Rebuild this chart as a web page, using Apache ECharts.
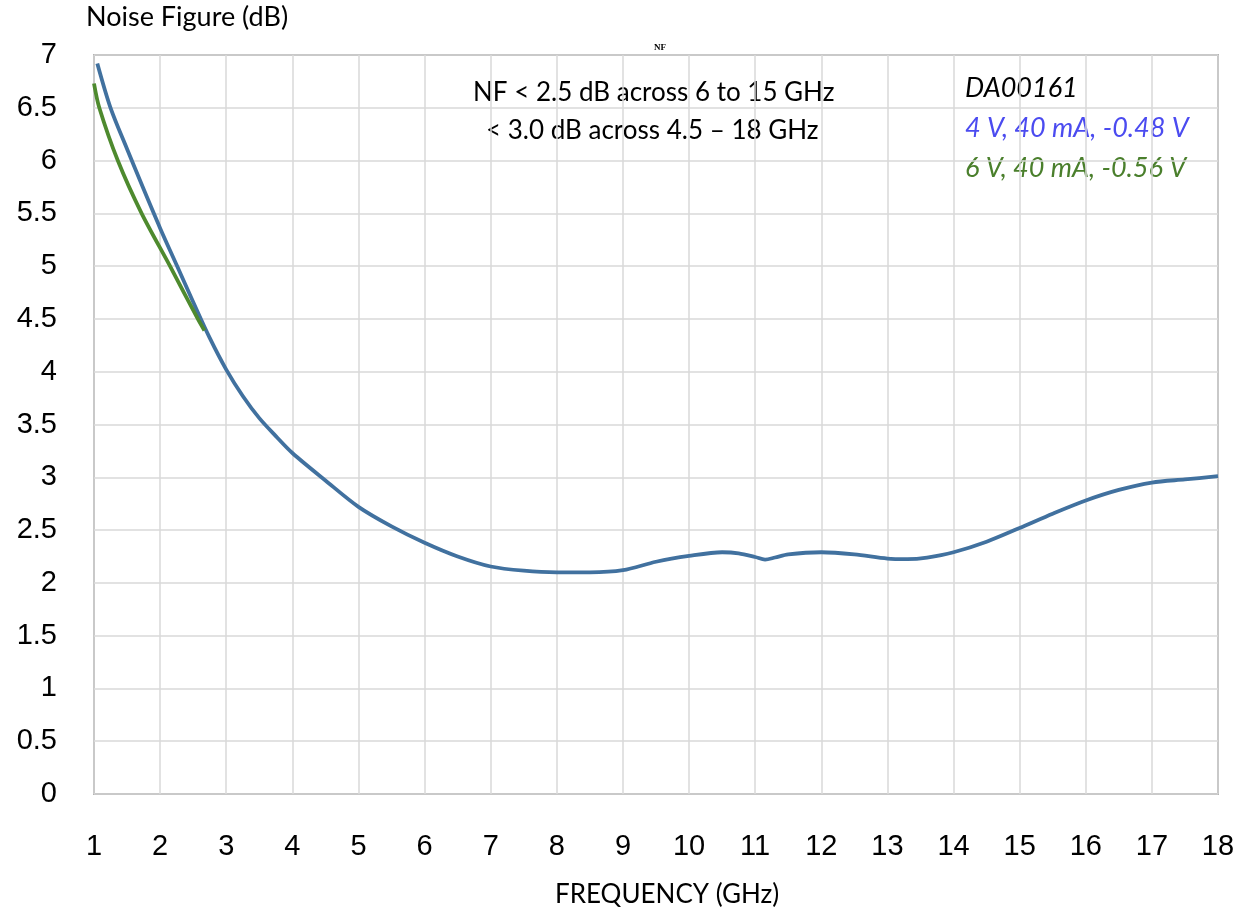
<!DOCTYPE html>
<html>
<head>
<meta charset="utf-8">
<script src="https://cdn.jsdelivr.net/npm/echarts@6/dist/echarts.min.js"></script>
<style>html,body{margin:0;padding:0;background:#fff;}#c{width:1247px;height:916px;}</style>
</head>
<body>
<div id="c"></div>
<script>
// Data
const blueFreq = [1.05, 1.25, 1.5, 1.75, 2.0, 2.25, 2.5, 2.75, 3.0, 3.25, 3.5, 3.75, 4.0, 4.5, 5.0, 5.5, 6.0, 6.5, 7.0, 7.5, 8.0, 8.5, 9.0, 9.5, 10.0, 10.5, 10.75, 11.0, 11.15, 11.3, 11.5, 12.0, 12.5, 13.0, 13.3, 13.6, 14.0, 14.5, 15.0, 15.5, 16.0, 16.5, 17.0, 17.5, 18.0];
const blueNF   = [6.92, 6.5, 6.11, 5.73, 5.36, 5.01, 4.66, 4.32, 4.02, 3.77, 3.56, 3.39, 3.23, 2.97, 2.72, 2.535, 2.38, 2.25, 2.155, 2.115, 2.10, 2.10, 2.12, 2.20, 2.255, 2.29, 2.28, 2.245, 2.22, 2.24, 2.27, 2.29, 2.27, 2.23, 2.225, 2.24, 2.29, 2.39, 2.52, 2.655, 2.78, 2.88, 2.95, 2.98, 3.01];
const greenFreq = [1.0, 1.08, 1.36, 1.72, 2.15, 2.57, 2.67];
const greenNF   = [6.73, 6.5, 6.0, 5.5, 5.0, 4.5, 4.39];
const yTicks = {min: 0, max: 7, step: 0.5};
const xTicks = {min: 1, max: 18, step: 1};
const chartTitle = 'NF';
const yAxisTitle = 'Noise Figure (dB)';
const xAxisTitle = 'FREQUENCY (GHz)';
const noteLines = ['NF < 2.5 dB across 6 to 15 GHz', '< 3.0 dB across 4.5 \u2013 18 GHz'];
const legendLines = ['DA00161', '4 V, 40 mA, -0.48 V', '6 V, 40 mA, -0.56 V'];

const zip = (a, b) => a.map((v, i) => [v, b[i]]);
const chart = echarts.init(document.getElementById('c'));
const txtFont = 'Lato, "Open Sans", sans-serif';
chart.setOption({
  animation: false,
  backgroundColor: '#fff',
  title: {
    text: chartTitle, left: 655, top: 38, textAlign: 'center',
    textStyle: {fontFamily: '"Liberation Serif", serif', fontSize: 9, fontWeight: 'bold', color: '#000'}
  },
  grid: {left: 94, top: 55, right: 29, bottom: 122, show: true, borderColor: '#7a7a7a', borderWidth: 1.5, containLabel: false},
  xAxis: {
    type: 'value', min: xTicks.min, max: xTicks.max, interval: xTicks.step,
    axisLine: {show: false}, axisTick: {show: false},
    splitLine: {show: true, lineStyle: {color: '#d9d9d9', width: 1.5}},
    axisLabel: {margin: 38, fontFamily: '"Liberation Sans", Arial, sans-serif', fontSize: 29, color: '#000'}
  },
  yAxis: {
    type: 'value', min: yTicks.min, max: yTicks.max, interval: yTicks.step,
    axisLine: {show: false}, axisTick: {show: false},
    splitLine: {show: true, lineStyle: {color: '#d9d9d9', width: 1.5}},
    axisLabel: {margin: 37, fontFamily: '"Liberation Sans", Arial, sans-serif', fontSize: 29, color: '#000'}
  },
  series: [
    {type: 'line', data: zip(blueFreq, blueNF), smooth: 0.3, showSymbol: false, lineStyle: {color: '#41719f', width: 3.8}, z: 3},
    {type: 'line', data: zip(greenFreq, greenNF), smooth: 0.3, showSymbol: false, lineStyle: {color: '#4e8a2e', width: 3.8}, z: 4}
  ],
  graphic: [
    {type: 'text', left: 86, top: 4, style: {text: yAxisTitle, font: '27px ' + txtFont, fill: '#000'}},
    {type: 'text', left: 555, top: 882, style: {text: xAxisTitle, font: '26px ' + txtFont, fill: '#000'}},
    {type: 'text', left: 473, top: 80, style: {text: noteLines[0], font: '26px ' + txtFont, fill: '#000'}},
    {type: 'text', left: 486, top: 118, style: {text: noteLines[1], font: '26px ' + txtFont, fill: '#000'}},
    {type: 'text', left: 965, top: 75, style: {text: legendLines[0], font: 'italic 27px ' + txtFont, fill: '#000'}},
    {type: 'text', left: 965, top: 115, style: {text: legendLines[1], font: 'italic 27px ' + txtFont, fill: '#4b4bf0'}},
    {type: 'text', left: 965, top: 155, style: {text: legendLines[2], font: 'italic 27px ' + txtFont, fill: '#4a7f2c'}}
  ]
});
</script>
</body>
</html>
